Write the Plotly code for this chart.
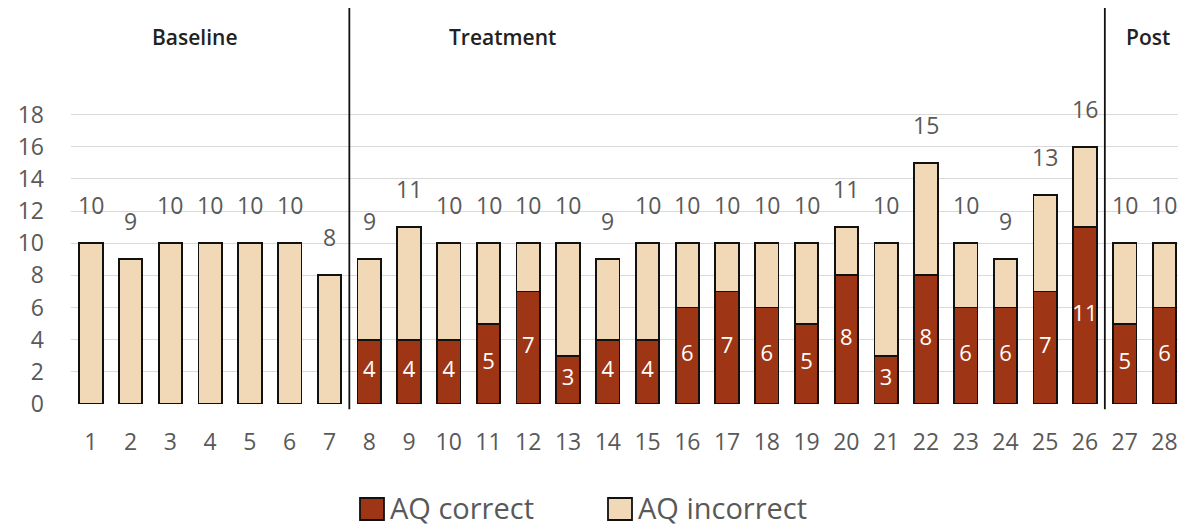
import plotly.graph_objects as go

sessions = list(range(1, 29))
totals = [10, 9, 10, 10, 10, 10, 8, 9, 11, 10, 10, 10, 10, 9, 10, 10, 10, 10, 10, 11, 10, 15, 10, 9, 13, 16, 10, 10]
correct = [0, 0, 0, 0, 0, 0, 0, 4, 4, 4, 5, 7, 3, 4, 4, 6, 7, 6, 5, 8, 3, 8, 6, 6, 7, 11, 5, 6]
incorrect = [t - c for t, c in zip(totals, correct)]
phases = ["Baseline", "Treatment", "Post"]
phase_pos = [3.62, 11.34, 27.58]
phase_breaks = [7.5, 26.5]
y_ticks = list(range(0, 20, 2))

C_CORRECT = "#9E3515"
C_INCORRECT = "#F1D9B7"
GRAY = "#595959"
FONT = "Open Sans"

fig = go.Figure()
fig.add_trace(go.Bar(
    x=sessions, y=correct, name="AQ correct",
    marker=dict(color=C_CORRECT, line=dict(color="#111111", width=1.8)),
    showlegend=False, hoverinfo="skip",
))
fig.add_trace(go.Bar(
    x=sessions, y=incorrect, name="AQ incorrect",
    marker=dict(color=C_INCORRECT, line=dict(color="#111111", width=1.8)),
    showlegend=False, hoverinfo="skip",
))

# inside labels for correct counts
lab_x = [s for s, c in zip(sessions, correct) if c > 0]
lab_y = [c / 2 for c in correct if c > 0]
lab_t = [str(c) for c in correct if c > 0]
fig.add_trace(go.Scatter(
    x=lab_x, y=lab_y, text=lab_t, mode="text", textposition="middle center",
    textfont=dict(family=FONT, size=22, color="white"),
    showlegend=False, hoverinfo="skip", cliponaxis=False,
))

annotations = []
for s, t in zip(sessions, totals):
    annotations.append(dict(
        x=s, y=t, xref="x", yref="y", text=str(t), showarrow=False,
        yshift=38, font=dict(family=FONT, size=23, color=GRAY),
    ))
for name, px in zip(phases, phase_pos):
    annotations.append(dict(
        x=px, y=22.85, xref="x", yref="y", text=name, showarrow=False,
        font=dict(family=FONT, size=21, color="#222222", weight=600),
    ))

shapes = []
for b in phase_breaks:
    shapes.append(dict(type="line", xref="x", yref="paper", x0=b, x1=b,
                       y0=-0.013, y1=0.985, line=dict(color="#111111", width=1.8)))

# custom legend (paper coords): plot area x 71..1178, y 2..404
def px2x(p):
    return (p - 71) / 1107.0

def py2y(p):
    return (404 - p) / 402.0

legend_items = [("AQ correct", C_CORRECT, 360), ("AQ incorrect", C_INCORRECT, 608)]
for label, col, x0 in legend_items:
    shapes.append(dict(type="rect", xref="paper", yref="paper",
                       x0=px2x(x0), x1=px2x(x0 + 24), y0=py2y(520), y1=py2y(498),
                       fillcolor=col, line=dict(color="#111111", width=1.8)))
    annotations.append(dict(
        x=px2x(x0 + 28), y=py2y(507), xref="paper", yref="paper", text=label,
        showarrow=False, xanchor="left", yanchor="middle",
        font=dict(family=FONT, size=29, color=GRAY),
    ))

fig.update_layout(
    width=1178, height=527,
    margin=dict(l=71, r=0, t=2, b=123),
    barmode="stack", bargap=0.41,
    plot_bgcolor="white", paper_bgcolor="white",
    showlegend=False,
    annotations=annotations, shapes=shapes,
    xaxis=dict(range=[0.5, 28.34], tickvals=sessions, ticktext=[str(s) for s in sessions],
               showgrid=False, zeroline=False, showline=False, ticks="",
               tickfont=dict(family=FONT, size=23, color=GRAY), ticklabelstandoff=22),
    yaxis=dict(range=[0, 25], tickvals=y_ticks, showgrid=True, gridcolor="#D9D9D9",
               gridwidth=1, zeroline=False, showline=False, ticks="",
               tickfont=dict(family=FONT, size=23, color=GRAY), ticklabelstandoff=26),
)

fig.write_html("out.html")
